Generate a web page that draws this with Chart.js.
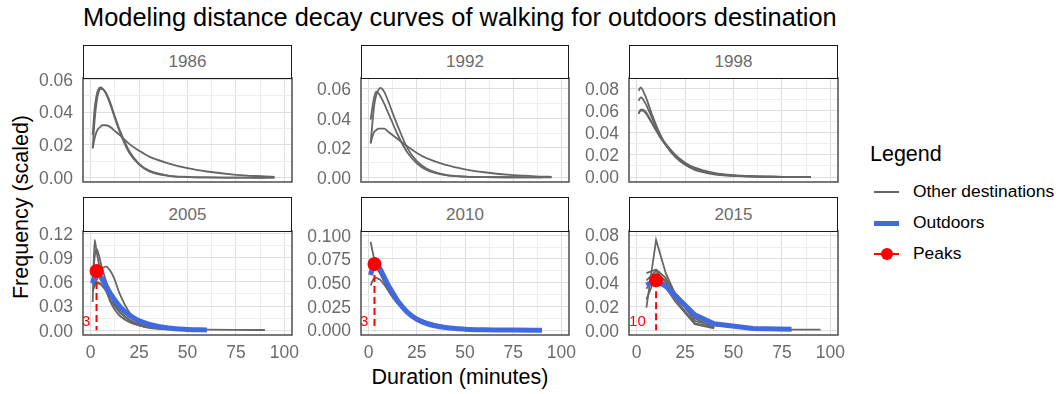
<!DOCTYPE html>
<html>
<head>
<meta charset="utf-8">
<script src="https://cdn.jsdelivr.net/npm/chart.js@4.4.1/dist/chart.umd.min.js"></script>
<style>
  html, body { margin: 0; padding: 0; background: #fff; }
  body { width: 1063px; height: 394px; position: relative; overflow: hidden;
         font-family: 'Liberation Sans', Arial, sans-serif; }
  canvas.panel { position: absolute; }
  .strip { position: absolute; box-sizing: border-box; border: 1px solid #1a1a1a; background: #fff;
           color: #6b6b6b; font-size: 17px; display: flex; align-items: center; justify-content: center; }
  .txt { position: absolute; white-space: nowrap; color: #000; line-height: 1; }
  #title { left: 83px; top: 5px; font-size: 25.4px; }
  #xtitle { left: 460px; top: 378px; font-size: 21.5px; transform: translate(-50%, -50%); }
  #ytitle { left: 22px; top: 207px; font-size: 21.5px; transform: translate(-50%, -50%) rotate(-90deg); }
  #legendTitle { left: 870px; top: 155px; font-size: 21.5px; transform: translateY(-50%); }
  .lgLabel { left: 913px; font-size: 17.4px; transform: translateY(-50%); }
  .key { position: absolute; left: 874px; width: 25px; }
</style>
</head>
<body>
<div id="title" class="txt">Modeling distance decay curves of walking for outdoors destination</div>
<div id="xtitle" class="txt">Duration (minutes)</div>
<div id="ytitle" class="txt">Frequency (scaled)</div>
<div id="legendTitle" class="txt">Legend</div>
<div class="key" style="top:191px;height:2px;background:#666;"></div>
<div class="txt lgLabel" style="top:192px">Other destinations</div>
<div class="key" style="top:221px;height:5px;background:#4169e1;"></div>
<div class="txt lgLabel" style="top:223px">Outdoors</div>
<div class="key" style="top:253px;height:2px;background:#ff0000;"></div>
<div class="key" style="top:248px;left:881px;width:12px;height:12px;border-radius:50%;background:#ff0000;"></div>
<div class="txt lgLabel" style="top:254px">Peaks</div>
<script>
const years = ['1986', '1992', '1998', '2005', '2010', '2015'];
const minutes = [1, 2, 3, 4, 5, 6, 8, 10, 12, 15, 20, 25, 30, 40, 50, 60, 75, 90, 95];
const minutes2015 = [5, 10, 15, 20, 30, 40, 60, 80, 95];
const xTickLabels = [0, 25, 50, 75, 100];

// scaled frequency of the other destinations, one row per destination
const other1986 = [
  [0.026, 0.042, 0.050, 0.054, 0.055, 0.0545, 0.051, 0.045, 0.038, 0.028, 0.015, 0.008, 0.004, 0.0012, 0.0004, 0.0002, 0.0001, 0.0, null],
  [0.018, 0.035, 0.046, 0.052, 0.054, 0.054, 0.0515, 0.046, 0.039, 0.029, 0.016, 0.0085, 0.0045, 0.0013, 0.0005, 0.0002, 0.0001, 0.0, 0.0],
  [0.018, 0.024, 0.028, 0.030, 0.031, 0.032, 0.032, 0.031, 0.029, 0.026, 0.0205, 0.0165, 0.013, 0.0088, 0.0058, 0.0038, 0.0018, 0.0008, 0.0005]
];
const other1992 = [
  [0.039, 0.048, 0.055, 0.058, 0.057, 0.055, 0.050, 0.044, 0.038, 0.029, 0.017, 0.0095, 0.005, 0.0015, 0.0005, 0.0002, 0.0001, 0.0, null],
  [0.023, 0.038, 0.050, 0.056, 0.059, 0.0605, 0.058, 0.052, 0.045, 0.035, 0.020, 0.011, 0.006, 0.0017, 0.0006, 0.0002, 0.0001, 0.0, 0.0],
  [0.023, 0.028, 0.031, 0.032, 0.033, 0.033, 0.033, 0.031, 0.029, 0.026, 0.021, 0.0165, 0.013, 0.0085, 0.0055, 0.0035, 0.0015, 0.0006, 0.0004]
];
const other1998 = [
  [0.078, 0.081, 0.079, 0.075, 0.071, 0.066, 0.056, 0.047, 0.039, 0.029, 0.018, 0.011, 0.0065, 0.0025, 0.001, 0.0004, 0.0001, 0.0, null],
  [0.069, 0.072, 0.071, 0.068, 0.065, 0.061, 0.053, 0.045, 0.038, 0.029, 0.0185, 0.0115, 0.007, 0.003, 0.0012, 0.0005, 0.0002, 0.0, null],
  [0.057, 0.061, 0.061, 0.060, 0.058, 0.055, 0.049, 0.043, 0.037, 0.030, 0.020, 0.013, 0.0085, 0.0038, 0.0016, 0.0007, 0.0002, 0.0001, null],
  [0.058, 0.060, 0.060, 0.059, 0.057, 0.054, 0.048, 0.042, 0.036, 0.029, 0.019, 0.012, 0.0075, 0.003, 0.0013, 0.0005, 0.0002, 0.0, null]
];
const other2005 = [
  [0.035, 0.112, 0.098, 0.085, 0.073, 0.064, 0.050, 0.036, 0.027, 0.018, 0.010, 0.006, 0.0035, 0.0015, 0.0007, 0.0003, null, null, null],
  [0.060, 0.090, 0.101, 0.095, 0.085, 0.076, 0.060, 0.045, 0.034, 0.023, 0.012, 0.006, 0.003, 0.001, 0.0004, null, null, null, null],
  [0.050, 0.057, 0.062, 0.068, 0.074, 0.077, 0.079, 0.074, 0.065, 0.045, 0.022, 0.012, 0.006, 0.0018, 0.0006, 0.0002, null, null, null],
  [0.048, 0.055, 0.058, 0.058, 0.057, 0.055, 0.050, 0.042, 0.035, 0.026, 0.016, 0.010, 0.006, 0.0025, 0.0012, 0.0007, 0.0004, 0.0003, null],
  [0.056, 0.059, 0.060, 0.059, 0.058, 0.055, 0.048, 0.038, 0.031, 0.022, 0.013, 0.008, 0.005, 0.002, 0.0008, null, null, null, null]
];
const other2010 = [
  [0.093, 0.083, 0.074, 0.068, 0.063, 0.059, 0.051, 0.043, 0.036, 0.028, 0.019, 0.0125, 0.0085, 0.0035, 0.0014, 0.0006, 0.0002, null, null],
  [0.047, 0.052, 0.055, 0.055, 0.054, 0.053, 0.048, 0.042, 0.036, 0.029, 0.0195, 0.013, 0.009, 0.004, 0.0018, 0.0008, 0.0003, 0.0001, null]
];
const other2015 = [
  [0.019, 0.076, 0.048, 0.030, 0.008, 0.003, null, null, null],
  [0.048, 0.051, 0.044, 0.029, 0.010, 0.002, null, null, null],
  [0.042, 0.050, 0.040, 0.026, 0.006, 0.002, null, null, null],
  [0.026, 0.046, 0.036, 0.024, 0.005, 0.0015, null, null, null],
  [0.035, 0.047, 0.042, 0.031, 0.012, 0.004, 0.0012, 0.0006, 0.0005]
];
const outdoors2005 = [0.058, 0.068, 0.0734, 0.071, 0.067, 0.063, 0.055, 0.046, 0.039, 0.0296, 0.0185, 0.0118, 0.0077, 0.0027, 0.001, 0.0004, null, null, null];
const outdoors2010 = [0.058, 0.066, 0.0697, 0.069, 0.067, 0.064, 0.056, 0.048, 0.041, 0.031, 0.019, 0.0115, 0.007, 0.0027, 0.001, 0.0004, 0.0001, 0.0, null];
const outdoors2015 = [0.038, 0.042, 0.037, 0.029, 0.013, 0.0055, 0.0015, 0.0008, null];

const otherByPanel = [other1986, other1992, other1998, other2005, other2010, other2015];
const outdoorsByPanel = [null, null, null, outdoors2005, outdoors2010, outdoors2015];
const peakMinutes = [null, null, null, 3, 3, 10];
const peakFreq = [null, null, null, 0.0734, 0.0697, 0.042];

// free y scales per facet: [min, max, labelled step, decimals]
const yScales = [
  [-0.0026, 0.0608, 0.02, 2],
  [-0.0031, 0.0672, 0.02, 2],
  [-0.0045, 0.0895, 0.02, 2],
  [-0.0059, 0.1231, 0.03, 2],
  [-0.0051, 0.1044, 0.025, 3],
  [-0.0040, 0.0835, 0.02, 2]
];

Chart.defaults.font.family = "'Liberation Sans', Arial, sans-serif";

const cols = [{ left: 83, w: 209 }, { left: 361, w: 208 }, { left: 629, w: 209 }];
const rows = [{ strip: 45, top: 78, h: 104 }, { strip: 197, top: 231, h: 104 }];

const isMultiple = (v, step) => Math.abs(v / step - Math.round(v / step)) < 1e-6;

const panelFrame = {
  id: 'panelFrame',
  afterDraw(chart) {
    const { ctx, chartArea: a } = chart;
    ctx.save();
    ctx.strokeStyle = '#4d4d4d';
    ctx.lineWidth = 1.5;
    ctx.strokeRect(a.left, a.top, a.width, a.height);
    ctx.restore();
  }
};

const peakLabel = {
  id: 'peakLabel',
  afterDatasetsDraw(chart, args, opts) {
    if (opts.minute == null) return;
    const { ctx, scales: { x, y } } = chart;
    const txt = String(opts.minute);
    ctx.save();
    ctx.font = "15px 'Liberation Sans', Arial, sans-serif";
    ctx.fillStyle = '#ff0000';
    ctx.textAlign = 'right';
    ctx.textBaseline = 'middle';
    const w = ctx.measureText(txt).width;
    ctx.fillText(txt, x.getPixelForValue(opts.minute) - 2 - w / 2, y.getPixelForValue(0) - 8.5);
    ctx.restore();
  }
};

function points(xs, ys) {
  return xs.map((x, i) => ({ x: x, y: ys[i] })).filter(p => p.y != null);
}

function makePanel(i) {
  const col = i % 3, row = Math.floor(i / 3);
  const c = cols[col], r = rows[row];
  const padTop = 12, yAxisW = 66, padRight = 20;
  const xAxisH = row ? 32 : 0, padBottom = row ? 0 : 6;
  const W = yAxisW + c.w + padRight, H = padTop + r.h + xAxisH + padBottom;

  const canvas = document.createElement('canvas');
  canvas.className = 'panel';
  canvas.width = W; canvas.height = H;
  canvas.style.width = W + 'px'; canvas.style.height = H + 'px';
  canvas.style.left = (c.left - yAxisW) + 'px';
  canvas.style.top = (r.top - padTop) + 'px';
  document.body.appendChild(canvas);

  const strip = document.createElement('div');
  strip.className = 'strip';
  strip.textContent = years[i];
  strip.style.left = c.left + 'px';
  strip.style.top = r.strip + 'px';
  strip.style.width = c.w + 'px';
  strip.style.height = (r.top - r.strip + 1) + 'px';
  document.body.appendChild(strip);

  const xs = i === 5 ? minutes2015 : minutes;
  const smooth = i === 5 ? {} : { cubicInterpolationMode: 'monotone' };
  const datasets = [];
  if (peakMinutes[i] != null) {
    datasets.push({
      data: [{ x: peakMinutes[i], y: peakFreq[i] }],
      showLine: false, pointRadius: 7, pointBackgroundColor: '#ff0000',
      pointBorderWidth: 0, order: 0
    });
    datasets.push({
      data: [{ x: peakMinutes[i], y: peakFreq[i] }, { x: peakMinutes[i], y: 0 }],
      borderColor: '#ff0000', borderWidth: 2, borderDash: [7, 4], pointRadius: 0, order: 1
    });
  }
  if (outdoorsByPanel[i]) {
    datasets.push(Object.assign({
      data: points(xs, outdoorsByPanel[i]),
      borderColor: '#4169e1', borderWidth: 5, pointRadius: 0, order: 2,
      borderCapStyle: 'butt'
    }, smooth));
  }
  otherByPanel[i].forEach(ys => {
    datasets.push(Object.assign({
      data: points(xs, ys),
      borderColor: '#666666', borderWidth: 1.8, pointRadius: 0, order: 3
    }, smooth));
  });

  const [yMin, yMax, yStep, yDec] = yScales[i];
  const gridColor = step => ctx => (ctx.tick && isMultiple(ctx.tick.value, step)) ? '#dedede' : '#eeeeee';

  new Chart(canvas, {
    type: 'line',
    data: { datasets: datasets },
    plugins: [panelFrame, peakLabel],
    options: {
      responsive: false,
      animation: false,
      events: [],
      layout: { padding: { top: padTop, right: padRight, bottom: padBottom, left: 0 } },
      plugins: {
        legend: { display: false },
        tooltip: { enabled: false },
        peakLabel: { minute: peakMinutes[i] }
      },
      scales: {
        x: {
          type: 'linear', min: -4, max: 104,
          border: { display: false },
          grid: { color: gridColor(25), lineWidth: 1, drawTicks: false },
          ticks: {
            display: row === 1, stepSize: 12.5, autoSkip: false, maxRotation: 0, minRotation: 0,
            includeBounds: false, padding: 8, color: '#6b6b6b', font: { size: 17.5 },
            callback: v => xTickLabels.includes(v) ? String(v) : ''
          },
          afterFit: s => { s.height = xAxisH; s.paddingLeft = 0; s.paddingRight = 0; }
        },
        y: {
          type: 'linear', min: yMin, max: yMax,
          border: { display: false },
          grid: { color: gridColor(yStep), lineWidth: 1, drawTicks: false },
          ticks: {
            stepSize: yStep / 2, autoSkip: false, includeBounds: false, padding: 10,
            labelOffset: 1.5, color: '#6b6b6b', font: { size: 17.5 },
            callback: v => isMultiple(v, yStep) ? v.toFixed(yDec) : ''
          },
          afterFit: s => { s.width = yAxisW; s.paddingTop = 0; s.paddingBottom = 0; }
        }
      }
    }
  });
}

years.forEach((_, i) => makePanel(i));
</script>
</body>
</html>
